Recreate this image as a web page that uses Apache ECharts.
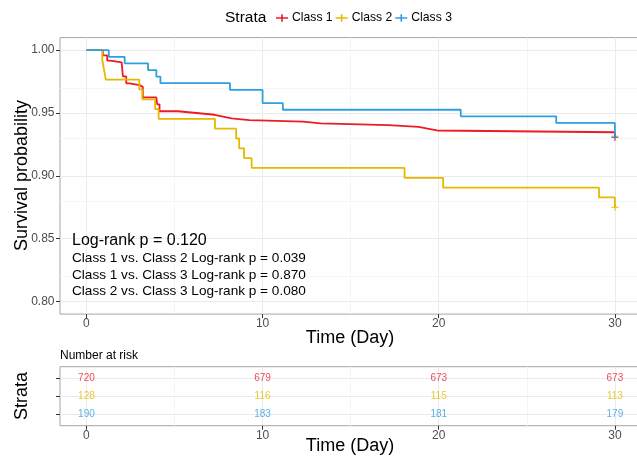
<!DOCTYPE html>
<html>
<head>
<meta charset="utf-8">
<script src="https://cdn.jsdelivr.net/npm/echarts@6/dist/echarts.min.js"></script>
<style>html,body{margin:0;padding:0;background:#fff;overflow:hidden}#c{width:642px;height:462px}</style>
</head>
<body>
<div id="c"></div>
<script>
// ---- data ----
const strata = ['Class 1', 'Class 2', 'Class 3'];
const colors = ['#EC1C24', '#E7B800', '#2E9FDF'];

const class1Time = [0, 0.93, 1.18, 1.35, 2.0, 2.07, 2.26, 2.45, 3.02, 3.2, 3.97, 4.02, 4.15, 5.2, 6.24, 7.28, 7.76, 8.24, 9.24, 12.3, 13.3, 17.15, 18.86, 19.37, 19.9, 30];
const class1Surv = [1, 0.9958, 0.9917, 0.9903, 0.9889, 0.9792, 0.9736, 0.9722, 0.9708, 0.9625, 0.9611, 0.9569, 0.9514, 0.95, 0.9486, 0.9472, 0.9458, 0.9444, 0.9431, 0.9417, 0.9403, 0.9389, 0.9375, 0.9361, 0.9347, 0.9306];

const class2Time = [0, 0.9, 1.0, 1.1, 3.0, 3.17, 3.9, 4.1, 7.3, 8.5, 8.67, 8.95, 9.38, 18.06, 20.25, 29.1, 30];
const class2Surv = [1, 0.9922, 0.9844, 0.9766, 0.9688, 0.9609, 0.9531, 0.9453, 0.9375, 0.9297, 0.9219, 0.9141, 0.9063, 0.8984, 0.8906, 0.8828, 0.875];

const class3Time = [0, 1.27, 2.17, 3.5, 3.97, 4.2, 8.15, 10.0, 11.15, 21.25, 26.67, 30];
const class3Surv = [1, 0.9947, 0.9895, 0.9842, 0.9789, 0.9737, 0.9684, 0.9579, 0.9526, 0.9474, 0.9421, 0.9316];

const censorTime = 30;

const riskTimes = [0, 10, 20, 30];
const class1Risk = [720, 679, 673, 673];
const class2Risk = [128, 116, 115, 113];
const class3Risk = [190, 183, 181, 179];

const xTicks = [0, 10, 20, 30];
const xGrid = [0, 5, 10, 15, 20, 25, 30];
const yTicks = [0.80, 0.85, 0.90, 0.95, 1.00];
const yMinorGrid = [0.825, 0.875, 0.925, 0.975];

const pvalMain = 'Log-rank p = 0.120';
const pvalPairs = [
  'Class 1 vs. Class 2 Log-rank p = 0.039',
  'Class 1 vs. Class 3 Log-rank p = 0.870',
  'Class 2 vs. Class 3 Log-rank p = 0.080'
];

// ---- build ----
const FONT = '"Liberation Sans", Arial, sans-serif';
const zip = (a, b) => a.map((v, i) => [v, b[i]]);
const curves = [zip(class1Time, class1Surv), zip(class2Time, class2Surv), zip(class3Time, class3Surv)];
const risks = [class1Risk, class2Risk, class3Risk];

const chart = echarts.init(document.getElementById('c'), null, {renderer: 'canvas'});

const majorCol = '#ebebeb', minorCol = '#f5f5f5';
const plusIcon = 'path://M0,3.2L12,3.2L12,4.8L0,4.8Z M5.2,0.3L6.8,0.3L6.8,7.7L5.2,7.7Z';
const censorSym = 'path://M3,0L4.2,0L4.2,7L3,7Z M0,3L7,3L7,4.2L0,4.2Z';

const gl = (key, v, col) => ({[key]: v, lineStyle: {color: col, width: 1, type: 'solid'}});

const series = [];
series.push({
  type: 'line', xAxisIndex: 0, yAxisIndex: 0, data: [], silent: true, z: 0,
  markLine: {
    silent: true, symbol: 'none', animation: false, label: {show: false}, z: 0,
    data: [
      ...xGrid.filter(v => v % 10 !== 0).map(v => gl('xAxis', v, minorCol)),
      ...yMinorGrid.map(v => gl('yAxis', v, minorCol)),
      ...xGrid.filter(v => v % 10 === 0).map(v => gl('xAxis', v, majorCol)),
      ...yTicks.map(v => gl('yAxis', v, majorCol))
    ]
  }
});
series.push({
  type: 'line', xAxisIndex: 1, yAxisIndex: 1, data: [], silent: true, z: 0,
  markLine: {
    silent: true, symbol: 'none', animation: false, label: {show: false}, z: 0,
    data: [
      ...xGrid.filter(v => v % 10 !== 0).map(v => gl('xAxis', v, minorCol)),
      ...xGrid.filter(v => v % 10 === 0).map(v => gl('xAxis', v, majorCol)),
      ...[1, 2, 3].map(v => gl('yAxis', v, majorCol))
    ]
  }
});
strata.forEach((name, i) => {
  series.push({
    name: name, type: 'line', step: 'end', xAxisIndex: 0, yAxisIndex: 0,
    data: curves[i], showSymbol: false, symbol: 'none', z: 3,
    lineStyle: {color: colors[i], width: 1.8}, itemStyle: {color: colors[i]}
  });
});
strata.forEach((name, i) => {
  const c = curves[i];
  series.push({
    name: name + ' censor', type: 'scatter', xAxisIndex: 0, yAxisIndex: 0, z: 4,
    data: [[censorTime, c[c.length - 1][1]]], symbol: censorSym, symbolSize: 7,
    itemStyle: {color: colors[i]}
  });
});
strata.forEach((name, i) => {
  series.push({
    name: name + ' risk', type: 'scatter', xAxisIndex: 1, yAxisIndex: 1, z: 5,
    data: riskTimes.map((t, j) => [t, i + 1, risks[i][j]]),
    symbolSize: 1, itemStyle: {color: 'rgba(0,0,0,0)'},
    label: {show: true, position: 'inside', formatter: p => String(p.value[2]),
      color: colors[i], fontSize: 10, fontFamily: FONT}
  });
});

const tickStyle = {show: true, length: 4, lineStyle: {color: '#333', width: 1}};
const labelStyle = {color: '#4d4d4d', fontSize: 12, fontFamily: FONT};
const noLine = {show: false, onZero: false};

const option = {
  animation: false,
  backgroundColor: '#fff',
  textStyle: {fontFamily: FONT},
  title: {text: 'Strata', left: 225, top: 10, padding: 0, textStyle: {fontSize: 15.5, fontWeight: 'normal', color: '#000', fontFamily: FONT}},
  legend: {
    data: strata.map(s => ({name: s, icon: plusIcon})),
    left: 271, top: 7, itemWidth: 12, itemHeight: 8, itemGap: 3,
    textStyle: {fontSize: 12.2, color: '#000', fontFamily: FONT, padding: [0, 0, 0, -1]}
  },
  grid: [
    {left: 60, top: 37.6, width: 581.3, height: 276.5, show: true, borderColor: '#a6a6a6', borderWidth: 1, containLabel: false},
    {left: 60, top: 366.7, width: 581.3, height: 59, show: true, borderColor: '#a6a6a6', borderWidth: 1, containLabel: false}
  ],
  xAxis: [
    {type: 'value', gridIndex: 0, min: -1.5, max: 31.5, axisLine: noLine, splitLine: {show: false},
     axisTick: Object.assign({customValues: xTicks}, tickStyle),
     axisLabel: Object.assign({customValues: xTicks, margin: 4}, labelStyle)},
    {type: 'value', gridIndex: 1, min: -1.5, max: 31.5, axisLine: noLine, splitLine: {show: false},
     axisTick: Object.assign({customValues: xTicks}, tickStyle),
     axisLabel: Object.assign({customValues: xTicks, margin: 4}, labelStyle)}
  ],
  yAxis: [
    {type: 'value', gridIndex: 0, min: 0.79, max: 1.01, axisLine: noLine, splitLine: {show: false},
     axisTick: Object.assign({customValues: yTicks}, tickStyle),
     axisLabel: Object.assign({customValues: yTicks, margin: 5.5, formatter: v => v.toFixed(2)}, labelStyle)},
    {type: 'value', gridIndex: 1, min: 0.4, max: 3.6, inverse: true, axisLine: noLine, splitLine: {show: false},
     axisTick: Object.assign({customValues: [1, 2, 3]}, tickStyle),
     axisLabel: {show: false}}
  ],
  graphic: {
    elements: [
      {type: 'text', z: 100, x: 22, y: 175.5, rotation: Math.PI / 2, style: {text: 'Survival probability', font: '18px ' + FONT, fill: '#000', align: 'center', verticalAlign: 'middle'}},
      {type: 'text', z: 100, x: 350, y: 338, style: {text: 'Time (Day)', font: '18px ' + FONT, fill: '#000', align: 'center', verticalAlign: 'middle'}},
      {type: 'text', z: 100, x: 72, y: 241, style: {text: pvalMain, font: '16px ' + FONT, fill: '#000', align: 'left', verticalAlign: 'middle'}},
      ...pvalPairs.map((t, i) => ({type: 'text', z: 100, x: 72, y: 258.5 + i * 16.5, style: {text: t, font: '13.6px ' + FONT, fill: '#000', align: 'left', verticalAlign: 'middle'}})),
      {type: 'text', z: 100, x: 60, y: 356, style: {text: 'Number at risk', font: '12px ' + FONT, fill: '#000', align: 'left', verticalAlign: 'middle'}},
      {type: 'text', z: 100, x: 22, y: 396, rotation: Math.PI / 2, style: {text: 'Strata', font: '18px ' + FONT, fill: '#000', align: 'center', verticalAlign: 'middle'}},
      {type: 'text', z: 100, x: 350, y: 446, style: {text: 'Time (Day)', font: '18px ' + FONT, fill: '#000', align: 'center', verticalAlign: 'middle'}}
    ]
  },
  series: series
};
chart.setOption(option);
</script>
</body>
</html>
